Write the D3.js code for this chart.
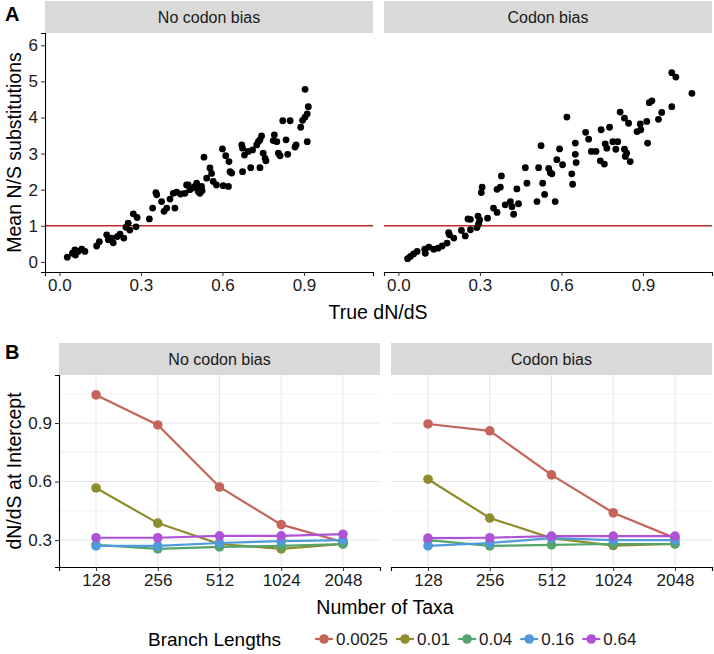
<!DOCTYPE html>
<html>
<head>
<meta charset="utf-8">
<script src="https://cdn.jsdelivr.net/npm/d3@7/dist/d3.min.js"></script>
<style>
  html, body { margin: 0; padding: 0; background: #fff; }
  svg { display: block; font-family: "Liberation Sans", Arial, sans-serif; }
</style>
</head>
<body>
<svg id="chart" width="714" height="654"></svg>
<script>
// ---------------- DATA ----------------
const facets = ["No codon bias", "Codon bias"];

// Panel A: [true dN/dS, mean N/S substitutions]
const scatterNoBias = [
  [0.029,0.13],[0.048,0.24],[0.057,0.33],[0.069,0.29],[0.082,0.35],[0.094,0.29],[0.059,0.19],
  [0.137,0.44],[0.147,0.56],[0.174,0.75],[0.180,0.61],[0.198,0.53],[0.192,0.66],[0.213,0.70],
  [0.223,0.77],[0.237,0.66],[0.245,0.96],[0.259,0.88],[0.253,1.07],[0.272,1.33],[0.282,0.97],
  [0.286,1.23],[0.331,1.19],[0.343,1.49],[0.358,1.86],[0.355,1.92],[0.376,1.67],[0.385,1.40],
  [0.395,1.49],[0.407,1.74],[0.419,1.90],[0.425,1.49],[0.431,1.93],[0.446,1.88],[0.462,1.90],
  [0.474,2.13],[0.480,2.00],[0.499,2.09],[0.511,1.95],[0.517,1.90],[0.523,2.09],[0.532,2.90],
  [0.542,2.32],[0.554,2.60],[0.560,2.45],[0.566,2.23],[0.578,2.13],
  [0.600,3.13],[0.612,2.94],[0.624,2.78],[0.628,2.50],[0.634,2.46],[0.603,2.11],[0.622,2.09],
  [0.671,3.24],[0.674,3.15],[0.681,2.96],[0.695,3.06],[0.711,3.10],[0.726,3.24],[0.732,3.33],
  [0.744,3.49],[0.738,3.38],[0.750,3.01],[0.757,2.87],[0.760,2.80],[0.674,2.50],[0.704,2.61],
  [0.738,2.61],[0.791,3.52],[0.787,3.36],[0.800,3.33],[0.806,3.01],[0.812,2.94],[0.822,3.91],
  [0.849,3.91],[0.840,2.98],[0.834,3.38],[0.867,3.18],[0.871,3.24],[0.888,3.73],[0.895,3.92],
  [0.904,4.01],[0.912,4.10],[0.916,4.30],[0.904,4.78],[0.912,3.33],
  [0.468,2.13],[0.505,2.18],[0.490,2.05],[0.515,2.00],[0.525,1.97]
];
const scatterBias = [
  [0.034,0.09],[0.044,0.15],[0.056,0.22],[0.069,0.29],[0.099,0.24],[0.097,0.35],[0.112,0.41],
  [0.130,0.35],[0.146,0.38],[0.161,0.44],[0.179,0.52],[0.185,0.81],[0.188,0.75],[0.204,0.66],
  [0.232,0.87],[0.246,0.72],[0.256,1.19],[0.265,1.18],[0.265,0.89],[0.289,0.95],[0.295,1.05],
  [0.293,1.27],[0.299,1.16],[0.305,1.92],[0.308,2.07],[0.328,1.21],[0.350,1.49],[0.363,1.37],
  [0.363,2.01],[0.375,2.07],[0.379,2.38],[0.393,1.58],[0.412,1.67],[0.418,1.53],[0.424,1.32],
  [0.436,2.02],[0.442,1.61],[0.467,2.61],[0.473,2.18],[0.510,1.67],[0.516,2.61],[0.525,3.22],
  [0.531,2.18],[0.538,1.87],[0.553,2.59],[0.559,2.47],[0.565,2.44],[0.577,1.67],[0.583,2.83],
  [0.593,3.13],[0.604,2.69],[0.620,4.01],[0.638,2.44],[0.641,2.15],[0.651,3.29],[0.651,2.98],
  [0.654,2.75],[0.689,3.59],[0.700,3.40],[0.710,3.06],[0.727,3.06],[0.746,3.66],[0.743,2.80],
  [0.758,2.71],[0.761,3.27],[0.767,3.15],[0.777,3.73],[0.789,3.33],[0.807,3.33],[0.800,3.12],
  [0.816,4.15],[0.832,3.98],[0.847,3.84],[0.832,3.12],[0.835,2.92],[0.840,3.01],[0.853,2.78],
  [0.878,3.61],[0.892,3.66],[0.890,3.82],[0.914,3.89],[0.917,3.29],[0.923,4.41],[0.933,4.46],
  [0.957,3.95],[0.969,4.14],[1.006,4.30],[1.006,5.24],[1.021,5.12],[1.080,4.67]
];
const scatterData = [scatterNoBias, scatterBias];
const refLineValue = 1;
const xTicksA = [0, 0.3, 0.6, 0.9];
const yTicksA = [0, 1, 2, 3, 4, 5, 6];

// Panel B
const taxa = ["128", "256", "512", "1024", "2048"];
const branchLengths = ["0.0025", "0.01", "0.04", "0.16", "0.64"];
const branchColors = ["#c4645b", "#8e8c2b", "#55a46e", "#4f9bd9", "#ae52d6"];
const interceptNoBias = [
  [1.044, 0.890, 0.572, 0.379, 0.290],
  [0.567, 0.387, 0.280, 0.255, 0.280],
  [0.275, 0.255, 0.265, 0.270, 0.280],
  [0.270, 0.270, 0.285, 0.295, 0.300],
  [0.312, 0.312, 0.322, 0.322, 0.330]
];
const interceptBias = [
  [0.895, 0.860, 0.634, 0.440, 0.310],
  [0.612, 0.413, 0.310, 0.272, 0.280],
  [0.300, 0.270, 0.275, 0.280, 0.280],
  [0.270, 0.285, 0.310, 0.300, 0.300],
  [0.310, 0.312, 0.320, 0.320, 0.320]
];
const interceptData = [interceptNoBias, interceptBias];
const yTicksB = [0.3, 0.6, 0.9];
const yMinorB = [0.45, 0.75, 1.05];

// ---------------- DRAW ----------------
const svg = d3.select("#chart");
const font = "Liberation Sans, Arial, sans-serif";
const tickFont = 17, titleFont = 19.5, stripFont = 16;

function styleAxis(g) {
  g.select(".domain").attr("stroke", "#000").attr("stroke-width", 1.1);
  g.selectAll(".tick line").attr("stroke", "#333");
  g.selectAll("text").attr("font-size", tickFont).attr("fill", "#1a1a1a").attr("font-family", font);
}

// ---- Panel A ----
const A = { top: 33, bottom: 272, stripTop: 1, panels: [{x0: 45, w: 328}, {x0: 384, w: 328}] };
const yA = d3.scaleLinear().domain([-0.28, 6.34]).range([A.bottom, A.top]);

svg.append("text").attr("x", 5).attr("y", 21).text("A")
  .attr("font-size", 20).attr("font-weight", "bold").attr("fill", "#000");

A.panels.forEach((p, i) => {
  const xA = d3.scaleLinear().domain([-0.053, 1.154]).range([p.x0, p.x0 + p.w]);
  svg.append("rect").attr("x", p.x0).attr("y", A.stripTop).attr("width", p.w)
    .attr("height", A.top - A.stripTop).attr("fill", "#d9d9d9");
  svg.append("text").attr("x", p.x0 + p.w / 2).attr("y", (A.stripTop + A.top) / 2 + 6)
    .attr("text-anchor", "middle").attr("font-size", stripFont).attr("fill", "#1a1a1a").text(facets[i]);
  svg.append("line").attr("x1", p.x0).attr("x2", p.x0 + p.w)
    .attr("y1", yA(refLineValue)).attr("y2", yA(refLineValue))
    .attr("stroke", "#c02a2a").attr("stroke-width", 1.4);
  svg.append("g").selectAll("circle").data(scatterData[i]).join("circle")
    .attr("cx", d => xA(d[0])).attr("cy", d => yA(d[1])).attr("r", 3.4).attr("fill", "#000");
  const gx = svg.append("g").attr("transform", `translate(0,${A.bottom})`)
    .call(d3.axisBottom(xA).tickValues(xTicksA).tickFormat(d3.format(".1f")).tickSize(4).tickPadding(3));
  styleAxis(gx);
  if (i === 0) {
    const gy = svg.append("g").attr("transform", `translate(${p.x0},0)`)
      .call(d3.axisLeft(yA).tickValues(yTicksA).tickFormat(d3.format("d")).tickSize(4).tickPadding(3));
    styleAxis(gy);
  }
});
svg.append("text").attr("x", 378).attr("y", 319).attr("text-anchor", "middle")
  .attr("font-size", titleFont).attr("fill", "#000").text("True dN/dS");
svg.append("text").attr("transform", `translate(21,${(A.top + A.bottom) / 2}) rotate(-90)`)
  .attr("text-anchor", "middle").attr("font-size", titleFont).attr("fill", "#000").text("Mean N/S substitutions");

// ---- Panel B ----
const B = { top: 375, bottom: 567, stripTop: 343, panels: [{x0: 59, w: 321}, {x0: 391, w: 321}] };
const yB = d3.scaleLinear().domain([0.162, 1.146]).range([B.bottom, B.top]);

svg.append("text").attr("x", 5).attr("y", 359).text("B")
  .attr("font-size", 20).attr("font-weight", "bold").attr("fill", "#000");

B.panels.forEach((p, i) => {
  const xB = d3.scalePoint().domain(taxa).range([p.x0, p.x0 + p.w]).padding(0.6);
  svg.append("rect").attr("x", p.x0).attr("y", B.stripTop).attr("width", p.w)
    .attr("height", B.top - B.stripTop).attr("fill", "#d9d9d9");
  svg.append("text").attr("x", p.x0 + p.w / 2).attr("y", (B.stripTop + B.top) / 2 + 6)
    .attr("text-anchor", "middle").attr("font-size", stripFont).attr("fill", "#1a1a1a").text(facets[i]);
  const grid = svg.append("g");
  grid.selectAll(".minor").data(yMinorB).join("line")
    .attr("x1", p.x0).attr("x2", p.x0 + p.w).attr("y1", d => yB(d)).attr("y2", d => yB(d))
    .attr("stroke", "#f0f0f0").attr("stroke-width", 0.8);
  grid.selectAll(".major").data(yTicksB).join("line")
    .attr("x1", p.x0).attr("x2", p.x0 + p.w).attr("y1", d => yB(d)).attr("y2", d => yB(d))
    .attr("stroke", "#e6e6e6").attr("stroke-width", 1);
  grid.selectAll(".vert").data(taxa).join("line")
    .attr("x1", d => xB(d)).attr("x2", d => xB(d)).attr("y1", B.top).attr("y2", B.bottom)
    .attr("stroke", "#e6e6e6").attr("stroke-width", 1);
  const line = d3.line().x((d, j) => xB(taxa[j])).y(d => yB(d));
  interceptData[i].forEach((series, k) => {
    svg.append("path").datum(series).attr("d", line).attr("fill", "none")
      .attr("stroke", branchColors[k]).attr("stroke-width", 2.2);
  });
  interceptData[i].forEach((series, k) => {
    svg.append("g").selectAll("circle").data(series).join("circle")
      .attr("cx", (d, j) => xB(taxa[j])).attr("cy", d => yB(d)).attr("r", 4.8)
      .attr("fill", branchColors[k]);
  });
  const gx = svg.append("g").attr("transform", `translate(0,${B.bottom})`)
    .call(d3.axisBottom(xB).tickSize(4).tickPadding(3));
  styleAxis(gx);
  if (i === 0) {
    const gy = svg.append("g").attr("transform", `translate(${p.x0},0)`)
      .call(d3.axisLeft(yB).tickValues(yTicksB).tickFormat(d3.format(".1f")).tickSize(4).tickPadding(3));
    styleAxis(gy);
  }
});
svg.append("text").attr("x", 385).attr("y", 614).attr("text-anchor", "middle")
  .attr("font-size", titleFont).attr("fill", "#000").text("Number of Taxa");
svg.append("text").attr("transform", `translate(21,${(B.top + B.bottom) / 2}) rotate(-90)`)
  .attr("text-anchor", "middle").attr("font-size", titleFont).attr("fill", "#000").text("dN/dS at Intercept");

// ---- Legend ----
const legend = svg.append("g").attr("transform", "translate(0,639)");
legend.append("text").attr("x", 148).attr("y", 7).attr("font-size", 19).attr("fill", "#000").text("Branch Lengths");
let lx = 315;
branchLengths.forEach((b, k) => {
  const g = legend.append("g").attr("transform", `translate(${lx},0)`);
  g.append("line").attr("x1", 0).attr("x2", 18).attr("y1", 0).attr("y2", 0)
    .attr("stroke", branchColors[k]).attr("stroke-width", 2.2);
  g.append("circle").attr("cx", 9).attr("cy", 0).attr("r", 4.8).attr("fill", branchColors[k]);
  const t = g.append("text").attr("x", 21).attr("y", 6).attr("font-size", tickFont).attr("fill", "#1a1a1a").text(b);
  lx += 21 + t.node().getComputedTextLength() + 8;
});
</script>
</body>
</html>
